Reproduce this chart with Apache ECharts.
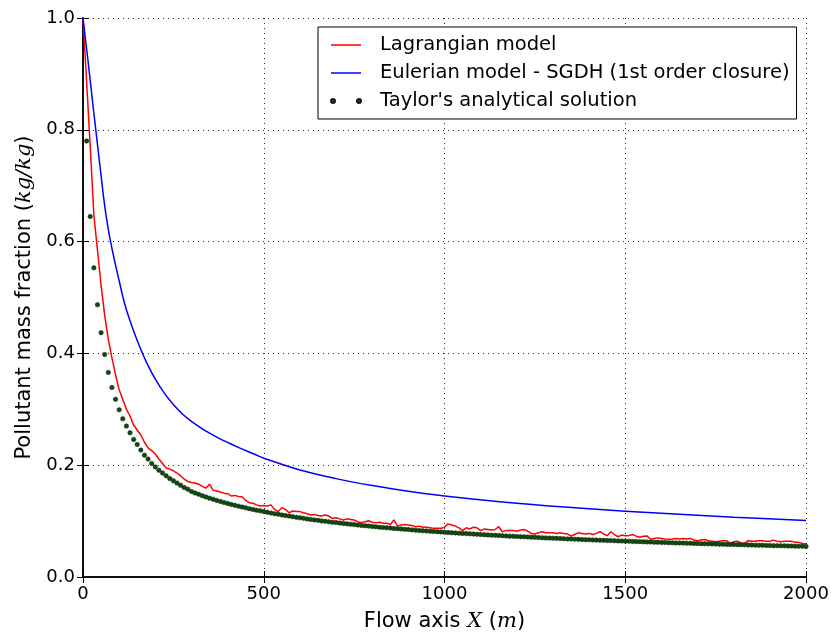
<!DOCTYPE html>
<html>
<head>
<meta charset="utf-8">
<script src="https://cdn.jsdelivr.net/npm/echarts@6.0.0/dist/echarts.min.js"></script>
<style>
  html, body { margin: 0; padding: 0; background: #fff; }
  #chart { width: 832px; height: 637px; }
</style>
</head>
<body>
<div id="chart"></div>
<script>
  // samples along the flow axis are every 10 m
  var step = 10;

  // Lagrangian model, x = 0, 10, ..., 2000
  var lagrangianY = [
    1.0, 0.886, 0.77, 0.648, 0.585, 0.522, 0.468, 0.425, 0.392, 0.362,
    0.335, 0.318, 0.300, 0.288, 0.272, 0.263, 0.254, 0.241, 0.231, 0.226,
    0.220, 0.211, 0.203, 0.195, 0.193, 0.190, 0.186, 0.181, 0.175, 0.171,
    0.169, 0.168, 0.166, 0.162, 0.159, 0.166, 0.155, 0.154, 0.152, 0.150,
    0.149, 0.145, 0.146, 0.144, 0.1435, 0.137, 0.133, 0.132, 0.129, 0.127,
    0.128, 0.127, 0.129, 0.121, 0.117, 0.124, 0.121, 0.115, 0.118, 0.117,
    0.117, 0.115, 0.113, 0.111, 0.112, 0.110, 0.109, 0.111, 0.109, 0.105,
    0.106, 0.104, 0.102, 0.104, 0.103, 0.102, 0.099, 0.097, 0.099, 0.1005,
    0.098, 0.097, 0.098, 0.096, 0.096, 0.094, 0.102, 0.091, 0.093, 0.094,
    0.093, 0.092, 0.090, 0.091, 0.089, 0.089, 0.088, 0.087, 0.087, 0.087,
    0.089, 0.095, 0.093, 0.091, 0.088, 0.083, 0.088, 0.086, 0.089, 0.088,
    0.083, 0.086, 0.085, 0.084, 0.085, 0.090, 0.081, 0.083, 0.083, 0.083,
    0.082, 0.084, 0.085, 0.082, 0.078, 0.077, 0.079, 0.081, 0.079, 0.079,
    0.079, 0.078, 0.079, 0.078, 0.077, 0.073, 0.076, 0.079, 0.078, 0.077,
    0.078, 0.076, 0.078, 0.081, 0.077, 0.074, 0.081, 0.076, 0.072, 0.075,
    0.074, 0.074, 0.076, 0.073, 0.071, 0.073, 0.0735, 0.0675, 0.069, 0.070,
    0.069, 0.068, 0.0675, 0.068, 0.069, 0.068, 0.069, 0.068, 0.069, 0.066,
    0.065, 0.066, 0.067, 0.065, 0.064, 0.063, 0.064, 0.065, 0.065, 0.060,
    0.063, 0.064, 0.061, 0.060, 0.065, 0.064, 0.064, 0.065, 0.065, 0.064,
    0.064, 0.066, 0.064, 0.063, 0.064, 0.064, 0.064, 0.062, 0.062, 0.060,
    0.059
  ];

  // Eulerian model (smooth curve)
  var eulerianX = [0, 10, 20, 30, 40, 50, 60, 70, 80, 90, 100, 110, 120, 140, 160, 180, 200,
    225, 250, 275, 300, 325, 350, 375, 400, 425, 450, 475, 500,
    600, 700, 800, 900, 1000, 1200, 1400, 1600, 1800, 2000];
  var eulerianY = [1.0, 0.945, 0.888, 0.83, 0.774, 0.718, 0.664, 0.622, 0.588, 0.558, 0.530, 0.502, 0.478,
    0.440, 0.407, 0.378, 0.354,
    0.329, 0.3085, 0.2915, 0.2785, 0.2672, 0.2572, 0.2485, 0.2408, 0.2333, 0.2262, 0.2195, 0.2125,
    0.1915, 0.176, 0.1635, 0.1534, 0.145, 0.132, 0.122, 0.114, 0.107, 0.101];

  // Taylor's analytical solution, x = 10, 20, ..., 2000
  var taylorY = [
    0.780, 0.645, 0.553, 0.487, 0.437, 0.398, 0.366, 0.339, 0.318, 0.299,
    0.283, 0.270, 0.258, 0.246, 0.237, 0.227, 0.218, 0.211, 0.203, 0.197,
    0.191, 0.186, 0.181, 0.176, 0.172, 0.168, 0.164, 0.160, 0.157, 0.153,
    0.1504, 0.1479, 0.1455, 0.1433, 0.1411, 0.1390, 0.1370, 0.1351, 0.1333, 0.1316,
    0.1299, 0.1282, 0.1267, 0.1252, 0.1237, 0.1223, 0.1209, 0.1196, 0.1183, 0.1170,
    0.1157, 0.1145, 0.1133, 0.1122, 0.1110, 0.1099, 0.1089, 0.1078, 0.1068, 0.1058,
    0.1049, 0.1039, 0.1030, 0.1021, 0.1013, 0.1004, 0.0996, 0.0988, 0.0980, 0.0973,
    0.0965, 0.0958, 0.0951, 0.0944, 0.0937, 0.0930, 0.0923, 0.0917, 0.0911, 0.0904,
    0.0898, 0.0892, 0.0886, 0.0881, 0.0875, 0.0869, 0.0864, 0.0859, 0.0853, 0.0848,
    0.0843, 0.0838, 0.0833, 0.0828, 0.0824, 0.0819, 0.0815, 0.0810, 0.0806, 0.0801,
    0.0797, 0.0792, 0.0788, 0.0784, 0.0780, 0.0776, 0.0772, 0.0768, 0.0764, 0.0760,
    0.0756, 0.0753, 0.0749, 0.0745, 0.0742, 0.0738, 0.0735, 0.0731, 0.0728, 0.0725,
    0.0721, 0.0718, 0.0715, 0.0712, 0.0709, 0.0705, 0.0702, 0.0699, 0.0696, 0.0693,
    0.0691, 0.0688, 0.0685, 0.0682, 0.0679, 0.0676, 0.0674, 0.0671, 0.0668, 0.0666,
    0.0663, 0.0661, 0.0658, 0.0656, 0.0653, 0.0651, 0.0648, 0.0646, 0.0643, 0.0641,
    0.0639, 0.0636, 0.0634, 0.0632, 0.0630, 0.0627, 0.0625, 0.0623, 0.0621, 0.0619,
    0.0617, 0.0614, 0.0612, 0.0610, 0.0608, 0.0606, 0.0604, 0.0602, 0.0600, 0.0598,
    0.0596, 0.0595, 0.0593, 0.0591, 0.0589, 0.0587, 0.0585, 0.0583, 0.0582, 0.0580,
    0.0578, 0.0576, 0.0575, 0.0573, 0.0571, 0.0570, 0.0568, 0.0566, 0.0565, 0.0563,
    0.0561, 0.0560, 0.0558, 0.0557, 0.0555, 0.0554, 0.0552, 0.0551, 0.0549, 0.0547
  ];

  var xTicks = [0, 500, 1000, 1500, 2000];
  var yTicks = [0.0, 0.2, 0.4, 0.6, 0.8, 1.0];

  var seriesNames = ['Lagrangian model', 'Eulerian model - SGDH (1st order closure)', "Taylor's analytical solution"];

  var lagrangian = lagrangianY.map(function (v, i) { return [i * step, v]; });
  var eulerian = eulerianY.map(function (v, i) { return [eulerianX[i], v]; });
  var taylor = taylorY.map(function (v, i) { return [(i + 1) * step, v]; });

  var font = 'DejaVu Sans';
  var tickIn = { show: true, inside: true, length: 6, lineStyle: { color: '#000', width: 1 } };
  var frame = { show: true, lineStyle: { color: '#000', width: 1.5 } };
  var gridDots = { show: true, lineStyle: { color: '#000', width: 1, type: [1, 4], opacity: 0.85 } };

  var nameRich = {
    n: { fontFamily: font, fontSize: 21, color: '#000' },
    i: { fontFamily: 'DejaVu Serif', fontStyle: 'italic', fontSize: 21, color: '#000' }
  };

  var chart = echarts.init(document.getElementById('chart'));

  var option = {
    backgroundColor: '#fff',
    animation: false,
    grid: { left: 83, right: 26, top: 18, bottom: 60, containLabel: false },
    legend: {
      orient: 'vertical',
      left: 318,
      top: 27,
      padding: [8, 7, 8, 12],
      itemGap: 8,
      itemWidth: 30,
      itemHeight: 14,
      backgroundColor: '#fff',
      borderColor: '#000',
      borderWidth: 1,
      borderRadius: 0,
      textStyle: { color: '#000', fontFamily: font, fontSize: 19.5, padding: [0, 0, 0, 14] },
      data: [
        { name: seriesNames[0], icon: 'path://M0,0h30v1.5h-30z', itemStyle: { color: '#ff0000' } },
        { name: seriesNames[1], icon: 'path://M0,0h30v1.5h-30z', itemStyle: { color: '#0000ff' } },
        { name: seriesNames[2], icon: 'path://M0,2a2,2 0 1,0 4,0a2,2 0 1,0 -4,0zM26,2a2,2 0 1,0 4,0a2,2 0 1,0 -4,0z', itemStyle: { color: '#0b4f0b' } }
      ]
    },
    xAxis: [
      {
        type: 'value',
        min: xTicks[0], max: xTicks[xTicks.length - 1], interval: 500,
        position: 'bottom',
        name: '{n|Flow axis }{i|X}{n| (}{i|m}{n|)}',
        nameLocation: 'middle',
        nameGap: 34,
        nameTextStyle: { rich: nameRich },
        axisLine: frame,
        axisTick: tickIn,
        axisLabel: {
          color: '#000', fontFamily: font, fontSize: 18, margin: 8,
          formatter: function (v) { return String(v); }
        },
        splitLine: gridDots
      },
      {
        type: 'value',
        min: xTicks[0], max: xTicks[xTicks.length - 1], interval: 500,
        position: 'top',
        axisLine: frame,
        axisTick: tickIn,
        axisLabel: { show: false },
        splitLine: { show: false }
      }
    ],
    yAxis: [
      {
        type: 'value',
        min: yTicks[0], max: yTicks[yTicks.length - 1], interval: 0.2,
        position: 'left',
        name: '{n|Pollutant mass fraction (}{i|kg/kg}{n|)}',
        nameLocation: 'middle',
        nameRotate: 90,
        nameGap: 47,
        nameTextStyle: { rich: nameRich },
        axisLine: frame,
        axisTick: tickIn,
        axisLabel: {
          color: '#000', fontFamily: font, fontSize: 18, margin: 8,
          formatter: function (v) { return v.toFixed(1); }
        },
        splitLine: gridDots
      },
      {
        type: 'value',
        min: yTicks[0], max: yTicks[yTicks.length - 1], interval: 0.2,
        position: 'right',
        axisLine: frame,
        axisTick: tickIn,
        axisLabel: { show: false },
        splitLine: { show: false }
      }
    ],
    series: [
      {
        name: seriesNames[0],
        type: 'line',
        data: lagrangian,
        showSymbol: false,
        symbol: 'none',
        lineStyle: { color: '#ff0000', width: 1.5 },
        itemStyle: { color: '#ff0000' },
        z: 2
      },
      {
        name: seriesNames[1],
        type: 'line',
        data: eulerian,
        showSymbol: false,
        symbol: 'none',
        smooth: 0.4,
        lineStyle: { color: '#0000ff', width: 1.5 },
        itemStyle: { color: '#0000ff' },
        z: 3
      },
      {
        name: seriesNames[2],
        type: 'scatter',
        data: taylor,
        symbol: 'circle',
        symbolSize: 4.5,
        itemStyle: { color: '#0b4f0b', borderColor: '#1a1a1a', borderWidth: 0.5, opacity: 1 },
        z: 4
      }
    ]
  };

  chart.setOption(option);
</script>
</body>
</html>
